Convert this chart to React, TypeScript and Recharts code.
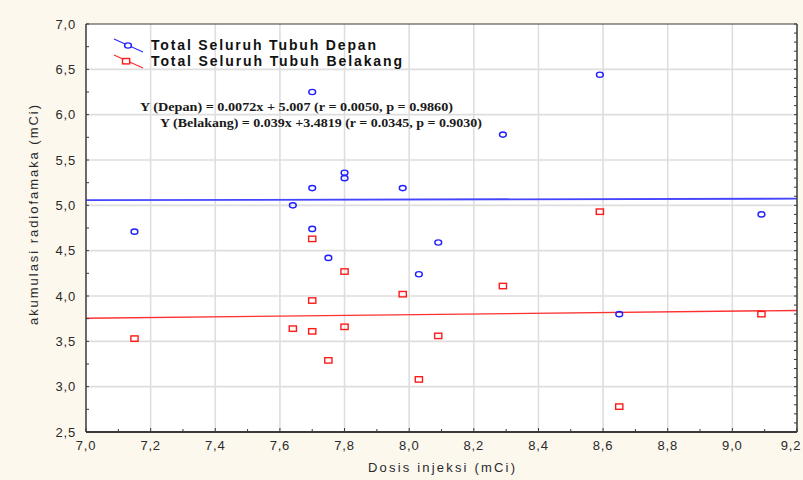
import React from "react";
import {
  ScatterChart,
  Scatter,
  XAxis,
  YAxis,
  ReferenceLine,
  ReferenceArea,
} from "recharts";

// dose (mCi) for each patient, shared by both series
const dose = [7.15, 7.64, 7.7, 7.7, 7.7, 7.75, 7.8, 7.8, 7.98, 8.03, 8.09, 8.29, 8.59, 8.65, 9.09];
const depan = [4.71, 5.0, 6.25, 5.19, 4.74, 4.42, 5.36, 5.3, 5.19, 4.24, 4.59, 5.78, 6.44, 3.8, 4.9];
const belakang = [3.53, 3.64, 4.63, 3.95, 3.61, 3.29, 4.27, 3.66, 4.02, 3.08, 3.56, 4.11, 4.93, 2.78, 3.8];

// regression fits [slope, intercept]
const fitDepan = [0.0072, 5.007];
const fitBelakang = [0.039, 3.4819];

const seriesNames = ["Total Seluruh Tubuh Depan", "Total Seluruh Tubuh Belakang"];
const fitLabels = [
  "Y (Depan) = 0.0072x + 5.007 (r = 0.0050, p = 0.9860)",
  "Y (Belakang) = 0.039x +3.4819 (r = 0.0345, p = 0.9030)",
];

const xMajor = [7.0, 7.2, 7.4, 7.6, 7.8, 8.0, 8.2, 8.4, 8.6, 8.8, 9.0, 9.2];
const yMajor = [2.5, 3.0, 3.5, 4.0, 4.5, 5.0, 5.5, 6.0, 6.5, 7.0];
const xMinor = [7.0, 7.1, 7.2, 7.3, 7.4, 7.5, 7.6, 7.7, 7.8, 7.9, 8.0, 8.1, 8.2, 8.3, 8.4, 8.5, 8.6, 8.7, 8.8, 8.9, 9.0, 9.1, 9.2];
const yLeftTicks = [2.5, 2.75, 3.0, 3.25, 3.5, 3.75, 4.0, 4.25, 4.5, 4.75, 5.0, 5.25, 5.5, 5.75, 6.0, 6.25, 6.5, 6.75, 7.0];
const yRightTicks = [
  2.5, 2.6, 2.7, 2.8, 2.9, 3.0, 3.1, 3.2, 3.3, 3.4, 3.5, 3.6, 3.7, 3.8, 3.9, 4.0, 4.1, 4.2, 4.3, 4.4,
  4.5, 4.6, 4.7, 4.8, 4.9, 5.0, 5.1, 5.2, 5.3, 5.4, 5.5, 5.6, 5.7, 5.8, 5.9, 6.0, 6.1, 6.2, 6.3, 6.4,
  6.5, 6.6, 6.7, 6.8, 6.9, 7.0,
];

const depanData = dose.map((x, i) => ({ x, y: depan[i] }));
const belakangData = dose.map((x, i) => ({ x, y: belakang[i] }));

const X0 = 7.0;
const X1 = 9.2;
const fitSegment = (f: number[]) => [
  { x: X0, y: f[0] * X0 + f[1] },
  { x: X1, y: f[0] * X1 + f[1] },
];

const fmt = (v: number) => v.toFixed(1).replace(".", ",");
const onStep = (v: number, step: number) => Math.abs(v / step - Math.round(v / step)) < 1e-6;

const labelFont = {
  fontFamily: "'Liberation Sans', Arial, sans-serif",
  fontSize: 13,
  fill: "#2a2a2a",
  letterSpacing: 0.8,
};
const axisColor = "#3a3a3a";
const gridColor = "#dedede";

const BottomTick = (p: any) => {
  const v = p.payload.value;
  const major = onStep(v, 0.2);
  // last label sits at the window edge, nudge it in a little
  const lx = v >= X1 ? p.x - 6 : p.x;
  return (
    <g>
      <line x1={p.x} x2={p.x} y1={p.y} y2={p.y - (major ? 4 : 3)} stroke={axisColor} />
      {major && (
        <text x={lx} y={p.y + 18} textAnchor="middle" {...labelFont}>
          {fmt(v)}
        </text>
      )}
    </g>
  );
};

const TopTick = (p: any) => (
  <line x1={p.x} x2={p.x} y1={p.y} y2={p.y + 3} stroke={axisColor} />
);

const LeftTick = (p: any) => {
  const major = onStep(p.payload.value, 0.5);
  return (
    <g>
      <line x1={p.x} x2={p.x + 3} y1={p.y} y2={p.y} stroke={axisColor} />
      {major && (
        <text x={p.x - 10} y={p.y + 4.5} textAnchor="end" {...labelFont}>
          {fmt(p.payload.value)}
        </text>
      )}
    </g>
  );
};

const RightTick = (p: any) => (
  <line x1={p.x} x2={p.x - 3} y1={p.y} y2={p.y} stroke={axisColor} />
);

const Circle = (p: any) => (
  <ellipse cx={p.cx} cy={p.cy} rx={3.4} ry={2.6} fill="none" stroke="#1f1fff" strokeWidth={1.4} />
);

const Square = (p: any) => (
  <rect x={p.cx - 3.6} y={p.cy - 2.7} width={7.2} height={5.4} fill="none" stroke="#ff1a1a" strokeWidth={1.4} />
);

export default function App() {
  return (
    <div
      style={{
        position: "absolute",
        left: 0,
        top: 0,
        width: 803,
        height: 480,
        background: "#fdf8ee",
      }}
    >
      <ScatterChart width={803} height={480} margin={{ top: 23, right: 5, bottom: 47, left: 85 }}>
        <XAxis
          xAxisId="b"
          type="number"
          dataKey="x"
          domain={[X0, X1]}
          ticks={xMinor}
          interval={0}
          height={1}
          tickSize={0}
          tickMargin={0}
          tickLine={false}
          tick={BottomTick}
          axisLine={{ stroke: axisColor, strokeWidth: 2 }}
          allowDataOverflow
        />
        <XAxis
          xAxisId="t"
          orientation="top"
          type="number"
          domain={[X0, X1]}
          ticks={xMinor}
          interval={0}
          height={1}
          tickSize={0}
          tickMargin={0}
          tickLine={false}
          tick={TopTick}
          axisLine={{ stroke: axisColor }}
          allowDataOverflow
        />
        <YAxis
          yAxisId="l"
          type="number"
          dataKey="y"
          domain={[2.5, 7.0]}
          ticks={yLeftTicks}
          interval={0}
          width={1}
          tickSize={0}
          tickMargin={0}
          tickLine={false}
          tick={LeftTick}
          axisLine={{ stroke: axisColor, strokeWidth: 1.5 }}
          allowDataOverflow
        />
        <YAxis
          yAxisId="r"
          orientation="right"
          type="number"
          domain={[2.5, 7.0]}
          ticks={yRightTicks}
          interval={0}
          width={1}
          tickSize={0}
          tickMargin={0}
          tickLine={false}
          tick={RightTick}
          axisLine={{ stroke: axisColor, strokeWidth: 1.5 }}
          allowDataOverflow
        />
        <ReferenceArea xAxisId="b" yAxisId="l" x1={X0} x2={X1} y1={2.5} y2={7.0} fill="#ffffff" fillOpacity={1} stroke="none" />
        {xMajor.slice(1, -1).map((v) => (
          <ReferenceLine key={"gx" + v} xAxisId="b" yAxisId="l" x={v} stroke={gridColor} strokeWidth={1.6} />
        ))}
        {yMajor.slice(1, -1).map((v) => (
          <ReferenceLine key={"gy" + v} xAxisId="b" yAxisId="l" y={v} stroke={gridColor} strokeWidth={1.6} />
        ))}
        <ReferenceLine xAxisId="b" yAxisId="l" segment={fitSegment(fitDepan)} stroke="#4545ff" strokeWidth={1.8} />
        <ReferenceLine xAxisId="b" yAxisId="l" segment={fitSegment(fitBelakang)} stroke="#ff3030" strokeWidth={1.4} />
        <Scatter
          name={seriesNames[0]}
          data={depanData}
          xAxisId="b"
          yAxisId="l"
          shape={Circle}
          isAnimationActive={false}
        />
        <Scatter
          name={seriesNames[1]}
          data={belakangData}
          xAxisId="b"
          yAxisId="l"
          shape={Square}
          isAnimationActive={false}
        />
      </ScatterChart>

      <svg
        width={803}
        height={480}
        style={{ position: "absolute", left: 0, top: 0, pointerEvents: "none" }}
      >
        {/* legend */}
        <line x1={114} y1={39} x2={143} y2={52} stroke="#2a2aff" strokeWidth={1.2} />
        <ellipse cx={128} cy={45.5} rx={3.4} ry={2.6} fill="#fff" stroke="#1f1fff" strokeWidth={1.4} />
        <line x1={114} y1={55} x2={143} y2={68} stroke="#ff2a2a" strokeWidth={1.2} />
        <rect x={122.5} y={58.5} width={7.2} height={5.4} fill="#fff" stroke="#ff1a1a" strokeWidth={1.4} />
        <text
          x={151}
          y={50}
          textLength={225}
          lengthAdjust="spacing"
          style={{ fontFamily: "'Liberation Sans', Arial, sans-serif", fontSize: 14, fontWeight: 700, fill: "#111" }}
        >
          {seriesNames[0]}
        </text>
        <text
          x={151}
          y={66}
          textLength={251}
          lengthAdjust="spacing"
          style={{ fontFamily: "'Liberation Sans', Arial, sans-serif", fontSize: 14, fontWeight: 700, fill: "#111" }}
        >
          {seriesNames[1]}
        </text>

        {/* regression equations */}
        <text
          x={140}
          y={111}
          textLength={313}
          lengthAdjust="spacingAndGlyphs"
          style={{ fontFamily: "'Liberation Serif', 'Times New Roman', serif", fontSize: 12.5, fontWeight: 700, fill: "#1a1a1a" }}
        >
          {fitLabels[0]}
        </text>
        <text
          x={160}
          y={127}
          textLength={322}
          lengthAdjust="spacingAndGlyphs"
          style={{ fontFamily: "'Liberation Serif', 'Times New Roman', serif", fontSize: 12.5, fontWeight: 700, fill: "#1a1a1a" }}
        >
          {fitLabels[1]}
        </text>

        {/* axis titles */}
        <text
          x={368}
          y={472}
          textLength={147}
          lengthAdjust="spacing"
          style={{ fontFamily: "'Liberation Sans', Arial, sans-serif", fontSize: 13, fill: "#2a2a2a" }}
        >
          Dosis injeksi (mCi)
        </text>
        <text
          transform="translate(38, 325) rotate(-90)"
          textLength={220}
          lengthAdjust="spacing"
          style={{ fontFamily: "'Liberation Sans', Arial, sans-serif", fontSize: 13, fill: "#2a2a2a" }}
        >
          akumulasi radiofamaka (mCi)
        </text>
      </svg>
    </div>
  );
}
